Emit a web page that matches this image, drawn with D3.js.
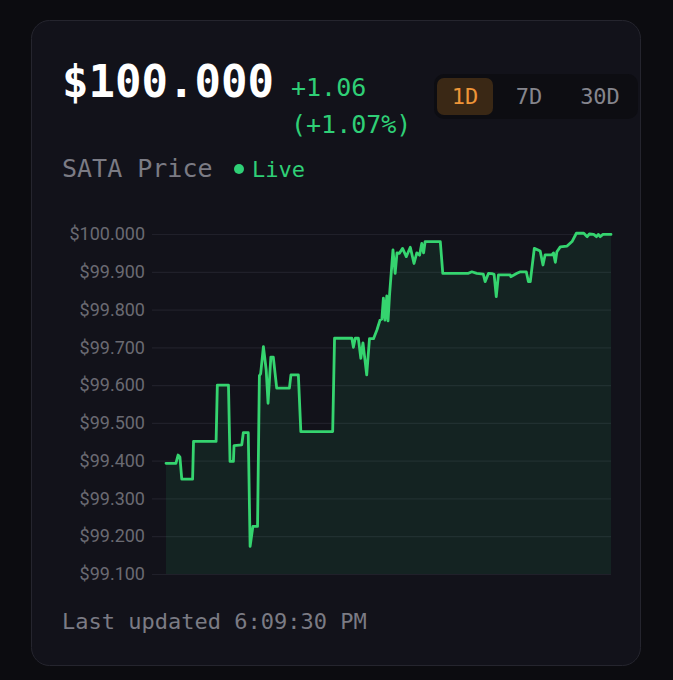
<!DOCTYPE html>
<html>
<head>
<meta charset="utf-8">
<script src="https://cdn.jsdelivr.net/npm/d3@7"></script>
<style>
  html, body { margin: 0; padding: 0; background: #0c0c10; }
  svg { display: block; }
</style>
</head>
<body>
<div id="chart"></div>
<script>
// minutes since start of the 1D window
var times = [
  0, 32, 39, 45, 51, 86, 89, 162, 166, 202, 207, 218, 220, 245, 250, 266,
  272, 281, 296, 302, 306, 315, 324, 330, 339, 347, 358, 399, 404, 428, 436, 539,
  545, 601, 606, 612, 622, 630, 637, 649, 658, 671, 682, 692, 698, 703, 708, 714,
  718, 723, 734, 741, 747, 755, 765, 777, 790, 802, 811, 820, 827, 833, 838, 887,
  895, 978, 989, 1005, 1026, 1032, 1043, 1054, 1061, 1068, 1075, 1113, 1115, 1135, 1146, 1165,
  1172, 1178, 1191, 1210, 1219, 1226, 1248, 1253, 1259, 1264, 1275, 1297, 1313, 1327, 1351, 1362,
  1369, 1383, 1392, 1398, 1404, 1413, 1439
];
var prices = [
  99.393, 99.393, 99.415, 99.410, 99.351, 99.351, 99.451, 99.451, 99.600, 99.600, 99.398, 99.398, 99.440, 99.442, 99.474, 99.474,
  99.173, 99.226, 99.226, 99.625, 99.630, 99.702, 99.640, 99.552, 99.674, 99.674, 99.592, 99.592, 99.627, 99.627, 99.477, 99.477,
  99.724, 99.724, 99.700, 99.724, 99.724, 99.671, 99.712, 99.627, 99.723, 99.723, 99.746, 99.772, 99.775, 99.830, 99.772, 99.836,
  99.770, 99.840, 99.958, 99.896, 99.950, 99.949, 99.962, 99.940, 99.965, 99.922, 99.950, 99.944, 99.975, 99.950, 99.980, 99.980,
  99.896, 99.896, 99.900, 99.896, 99.894, 99.874, 99.896, 99.895, 99.893, 99.834, 99.892, 99.892, 99.887, 99.896, 99.900, 99.900,
  99.874, 99.874, 99.962, 99.955, 99.918, 99.945, 99.945, 99.950, 99.925, 99.953, 99.966, 99.968, 99.980, 100.002, 100.002, 99.993,
  100.000, 99.999, 99.993, 99.999, 99.993, 99.999, 99.999
];
var yTicks = [99.1, 99.2, 99.3, 99.4, 99.5, 99.6, 99.7, 99.8, 99.9, 100.0];
var ranges = ["1D", "7D", "30D"];

var W = 673, H = 680;
var mono = "'DejaVu Sans Mono', monospace";
var green = "#2fcf76";

var svg = d3.select("#chart").append("svg")
  .attr("width", W)
  .attr("height", H);

svg.append("rect").attr("width", W).attr("height", H).attr("fill", "#0c0c10");

// card
svg.append("rect")
  .attr("x", 31.5).attr("y", 20.5)
  .attr("width", 609).attr("height", 645)
  .attr("rx", 18)
  .attr("fill", "#12121a")
  .attr("stroke", "#25252e");

// header
svg.append("text")
  .attr("x", 62).attr("y", 97)
  .attr("font-family", mono).attr("font-size", 44).attr("font-weight", "bold")
  .attr("fill", "#ffffff")
  .text("$100.000");

svg.append("text")
  .attr("x", 291).attr("y", 96)
  .attr("font-family", mono).attr("font-size", 25)
  .attr("fill", green)
  .text("+1.06");

svg.append("text")
  .attr("x", 291).attr("y", 133)
  .attr("font-family", mono).attr("font-size", 25)
  .attr("fill", green)
  .text("(+1.07%)");

// range buttons
svg.append("rect")
  .attr("x", 434).attr("y", 74)
  .attr("width", 204).attr("height", 45)
  .attr("rx", 10)
  .attr("fill", "#0d0d12");

var btnCenters = [465, 529, 600];
svg.append("rect")
  .attr("x", 437).attr("y", 78)
  .attr("width", 56).attr("height", 37)
  .attr("rx", 7)
  .attr("fill", "#3a2815");

svg.selectAll("text.range")
  .data(ranges)
  .enter()
  .append("text")
  .attr("class", "range")
  .attr("x", function(d, i) { return btnCenters[i]; })
  .attr("y", 104)
  .attr("text-anchor", "middle")
  .attr("font-family", mono).attr("font-size", 22)
  .attr("fill", function(d, i) { return i === 0 ? "#ee9538" : "#85858d"; })
  .text(function(d) { return d; });

svg.append("text")
  .attr("x", 62).attr("y", 177)
  .attr("font-family", mono).attr("font-size", 25)
  .attr("fill", "#7b7b84")
  .text("SATA Price");

svg.append("circle")
  .attr("cx", 239).attr("cy", 169).attr("r", 5)
  .attr("fill", green);

svg.append("text")
  .attr("x", 252).attr("y", 177)
  .attr("font-family", mono).attr("font-size", 22)
  .attr("fill", green)
  .text("Live");

// chart
var x0 = 166, x1 = 611, yTop = 234, yBot = 574;

var x = d3.scaleLinear()
  .domain([0, 1439])
  .range([x0, x1]);

var y = d3.scaleLinear()
  .domain([99.1, 100.0])
  .range([yBot, yTop]);

var data = times.map(function(t, i) { return { t: t, v: prices[i] }; });

// grid lines
var grid = svg.append("g")
  .attr("transform", "translate(152,0)")
  .call(d3.axisRight(y).tickValues(yTicks).tickSize(x1 - 152).tickFormat(""));
grid.select(".domain").remove();
grid.selectAll("line").attr("stroke", "#20202a").attr("stroke-width", 1.2);

// y labels
var yAxis = svg.append("g")
  .attr("transform", "translate(" + x0 + ",0)")
  .call(d3.axisLeft(y)
    .tickValues(yTicks)
    .tickSize(0)
    .tickPadding(21)
    .tickFormat(function(d) { return "$" + d3.format(".3f")(d); }));
yAxis.select(".domain").remove();
yAxis.selectAll("text")
  .attr("font-family", "Roboto, sans-serif")
  .attr("font-size", 18)
  .attr("fill", "#6a6a72");

// area + line
var area = d3.area()
  .x(function(d) { return x(d.t); })
  .y0(yBot)
  .y1(function(d) { return y(d.v); });

svg.append("path")
  .datum(data)
  .attr("d", area)
  .attr("fill", "#2fcf76")
  .attr("fill-opacity", 0.09);

var line = d3.line()
  .x(function(d) { return x(d.t); })
  .y(function(d) { return y(d.v); });

svg.append("path")
  .datum(data)
  .attr("d", line)
  .attr("fill", "none")
  .attr("stroke", "#35d46f")
  .attr("stroke-width", 2.8)
  .attr("stroke-linejoin", "round")
  .attr("stroke-linecap", "round");

// footer
svg.append("text")
  .attr("x", 62).attr("y", 629)
  .attr("font-family", mono).attr("font-size", 22)
  .attr("fill", "#7b7b84")
  .text("Last updated 6:09:30 PM");
</script>
</body>
</html>
